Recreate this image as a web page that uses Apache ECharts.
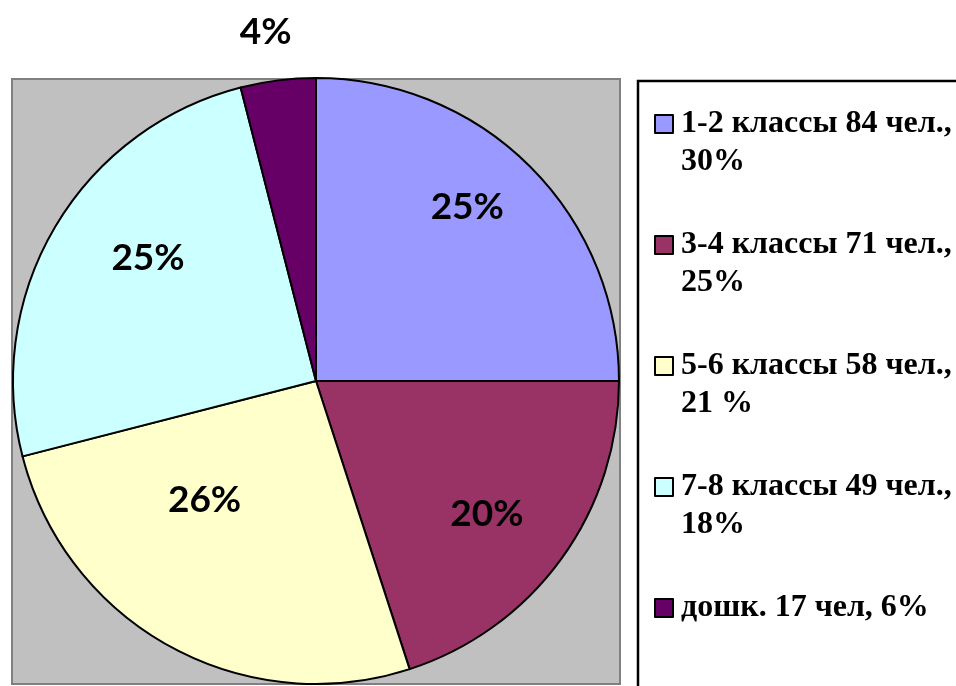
<!DOCTYPE html>
<html>
<head>
<meta charset="utf-8">
<script src="https://cdn.jsdelivr.net/npm/echarts@6/dist/echarts.min.js"></script>
<style>
html,body{margin:0;padding:0;background:#fff;}
#chart{width:956px;height:686px;}
</style>
</head>
<body>
<div id="chart"></div>
<script>
// Data
var categories = ['1-2 классы 84 чел., 30%', '3-4 классы 71 чел., 25%', '5-6 классы 58 чел., 21 %', '7-8 классы 49 чел., 18%', 'дошк. 17 чел, 6%'];
var values = [25, 20, 26, 25, 4];
var sliceLabels = ['25%', '20%', '26%', '25%', '4%'];

// Styles
var colors = ['#9999FF', '#993366', '#FFFFCC', '#CCFFFF', '#660066'];
var labelOffsets = [[42, -65], [46, 42], [-37, -16], [-35, -44], [-31, -196]];

var chart = echarts.init(document.getElementById('chart'));

var pieData = categories.map(function (c, i) {
  return { name: c, value: values[i], itemStyle: { color: colors[i] } };
});

var legendData = categories.map(function (c) {
  return { name: c, icon: 'rect' };
});

function legendLines(name) {
  var idx = name.indexOf('чел., ');
  var lines;
  if (idx >= 0) {
    lines = [name.slice(0, idx + 5), name.slice(idx + 6)];
  } else {
    lines = [name, ''];
  }
  // blank first line keeps the first text line centred on the icon
  return ' \n' + lines.map(function (l) { return l ? '{t|' + l + '}' : ' '; }).join('\n');
}

chart.setOption({
  animation: false,
  graphic: [
    { type: 'rect', z: -10, shape: { x: 12, y: 79, width: 608, height: 605 },
      style: { fill: '#C0C0C0', stroke: '#808080', lineWidth: 2 } },
    { type: 'rect', z: -10, shape: { x: 638, y: 81, width: 400, height: 700 },
      style: { fill: '#FFFFFF', stroke: '#000000', lineWidth: 2.5 } }
  ],
  legend: {
    orient: 'vertical',
    left: 654,
    top: 67,
    padding: 0,
    itemGap: 7,
    itemWidth: 18,
    itemHeight: 18,
    selectedMode: false,
    data: legendData,
    formatter: legendLines,
    textStyle: {
      fontFamily: '"Liberation Serif", "Times New Roman", serif',
      fontWeight: 'bold',
      fontSize: 32,
      lineHeight: 38,
      color: '#000',
      rich: {
        t: {
          fontFamily: '"Liberation Serif", "Times New Roman", serif',
          fontWeight: 'bold',
          fontSize: 32,
          lineHeight: 38,
          color: '#000',
          padding: [0, 0, 0, 3]
        }
      }
    }
  },
  series: [{
    type: 'pie',
    center: [316, 381],
    radius: 303,
    startAngle: 90,
    clockwise: true,
    avoidLabelOverlap: false,
    silent: true,
    emphasis: { disabled: true },
    itemStyle: { borderColor: '#000', borderWidth: 2 },
    label: {
      show: true,
      position: 'inside',
      formatter: function (p) { return sliceLabels[p.dataIndex]; },
      fontFamily: 'Lato, "Open Sans", sans-serif',
      fontWeight: 'bold',
      fontSize: 37,
      color: '#000'
    },
    labelLine: { show: false },
    labelLayout: function (params) {
      var o = labelOffsets[params.dataIndex];
      return { dx: o[0], dy: o[1] };
    },
    data: pieData
  }]
});
</script>
</body>
</html>
